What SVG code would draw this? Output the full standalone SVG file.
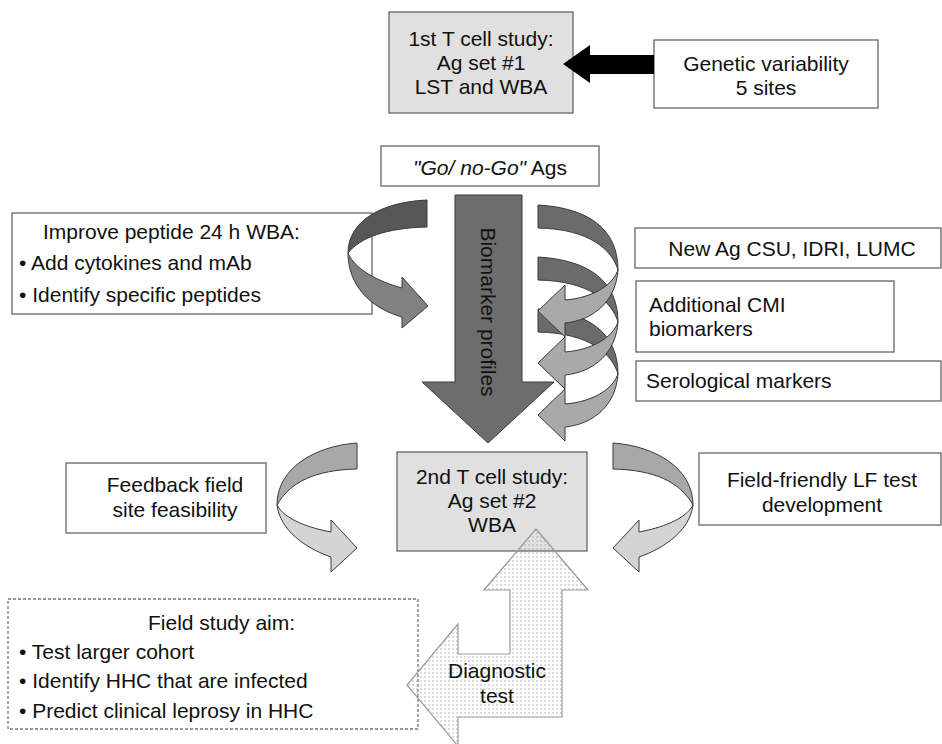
<svg xmlns="http://www.w3.org/2000/svg" xmlns:xlink="http://www.w3.org/1999/xlink" width="942" height="744" viewBox="0 0 942 744">
<style>
.box{fill:#fff;stroke:#666;stroke-width:1.3}
.gbox{fill:#e0e0e0;stroke:#666;stroke-width:1.3}
.dbox{fill:#fff;stroke:#777;stroke-width:1.3;stroke-dasharray:3 2}
.t{font-family:"Liberation Sans",Arial,sans-serif;font-size:21px;fill:#111}
.c{text-anchor:middle}
.ar{stroke:#3a3a3a;stroke-width:1}
.sd{fill:#6b6b6b;stroke:#3a3a3a;stroke-width:1}
.sl{fill:#a9a9a9;stroke:#3a3a3a;stroke-width:1}
</style>
<defs>
<pattern id="dots" width="4" height="4" patternUnits="userSpaceOnUse"><circle cx="1" cy="1" r="0.75" fill="#a8a8a8"/></pattern>
<g id="spiral"><path class="sd" d="M538,0 C590,3 618,25 618,65 C612,45 590,24 538,23 Z"/><path class="sl" d="M618,65 C616,95 595,115 565,118 L565,132 L538,106 L565,80 L565,95 C590,93 612,82 618,65 Z"/></g>
</defs>
<rect width="942" height="744" fill="#fff"/>

<g id="study1">
<rect class="gbox" x="389" y="12" width="184" height="101"/>
<text class="t c" x="481" y="46">1st T cell study:</text>
<text class="t c" x="481" y="70">Ag set #1</text>
<text class="t c" x="481" y="94">LST and WBA</text>
</g>
<g id="genetic">
<rect class="box" x="654" y="40" width="224" height="68"/>
<text class="t c" x="766" y="71">Genetic variability</text>
<text class="t c" x="766" y="95">5 sites</text>
</g>
<g id="gonogo">
<rect class="box" x="381" y="146" width="218" height="40"/>
<text class="t c" x="490" y="175"><tspan font-style="italic">"Go/ no-Go"</tspan> Ags</text>
</g>
<g id="improve">
<rect class="box" x="12" y="213" width="360" height="101"/>
<text class="t" x="43" y="239">Improve peptide 24 h WBA:</text>
<text class="t" x="19" y="270">• Add cytokines and mAb</text>
<text class="t" x="19" y="302">• Identify specific peptides</text>
</g>
<g id="newag">
<rect class="box" x="635" y="228" width="306" height="40"/>
<text class="t c" x="792" y="256">New Ag CSU, IDRI, LUMC</text>
</g>
<g id="cmi">
<rect class="box" x="636" y="281" width="258" height="71"/>
<text class="t" x="649" y="312">Additional CMI</text>
<text class="t" x="649" y="336">biomarkers</text>
</g>
<g id="sero">
<rect class="box" x="636" y="361" width="305" height="40"/>
<text class="t" x="646" y="388">Serological markers</text>
</g>
<g id="feedback">
<rect class="box" x="66" y="463" width="200" height="70"/>
<text class="t c" x="175" y="492">Feedback field</text>
<text class="t c" x="175" y="517">site feasibility</text>
</g>
<g id="study2">
<rect class="gbox" x="397" y="452" width="190" height="99"/>
<text class="t c" x="492" y="484">2nd T cell study:</text>
<text class="t c" x="492" y="508">Ag set #2</text>
<text class="t c" x="492" y="532">WBA</text>
</g>
<g id="fieldfriendly">
<rect class="box" x="699" y="453" width="242" height="72"/>
<text class="t c" x="822" y="487">Field-friendly LF test</text>
<text class="t c" x="822" y="512">development</text>
</g>
<g id="fieldstudy">
<rect class="dbox" x="8" y="599" width="410" height="130"/>
<text class="t" x="148" y="630">Field study aim:</text>
<text class="t" x="19" y="659">• Test larger cohort</text>
<text class="t" x="19" y="688">• Identify HHC that are infected</text>
<text class="t" x="19" y="718">• Predict clinical leprosy in HHC</text>
</g>

<g id="connectors">
<polygon points="654,55 590,55 590,45 563,64 590,83 590,74 654,74" fill="#000"/>
<g id="biomarker">
<polygon class="ar" points="455,195 522,195 522,382 554,382 488,443 422,382 455,382" fill="#6d6d6d"/>
<text class="t c" transform="translate(481,312) rotate(90)" x="0" y="0">Biomarker profiles</text>
</g>
<path class="ar" fill="#575757" d="M427,200 C380,202 348,222 348,253 C360,238 385,228 427,227 Z"/>
<path class="ar" fill="#818181" d="M348,253 C348,285 370,308 402,317 L402,328 L428,306 L402,277 L402,288 C380,282 355,270 348,253 Z"/>
<use xlink:href="#spiral" y="309"/>
<use xlink:href="#spiral" y="257"/>
<use xlink:href="#spiral" y="205"/>
<path class="ar" fill="#a8a8a8" d="M357,443 C315,446 277,468 277,505 C290,482 315,470 357,469 Z"/>
<path class="ar" fill="#d4d4d4" d="M277,505 C280,530 305,548 331,557 L331,572 L357,548 L331,520 L331,532 C310,528 285,520 277,505 Z"/>
<path class="ar" fill="#a8a8a8" d="M613,443 C655,446 693,468 693,505 C680,482 655,470 613,469 Z"/>
<path class="ar" fill="#d4d4d4" d="M693,505 C690,530 665,548 639,557 L639,572 L613,548 L639,520 L639,532 C660,528 685,520 693,505 Z"/>
<g id="diagnostic">
<polygon points="536,529 588,590 562,590 562,717 458,717 458,746 407,685 458,624 458,654 510,654 510,590 484,590" fill="url(#dots)" stroke="#999" stroke-width="1.2"/>
<text class="t c" x="497" y="678">Diagnostic</text>
<text class="t c" x="497" y="703">test</text>
</g>
</g>
</svg>
